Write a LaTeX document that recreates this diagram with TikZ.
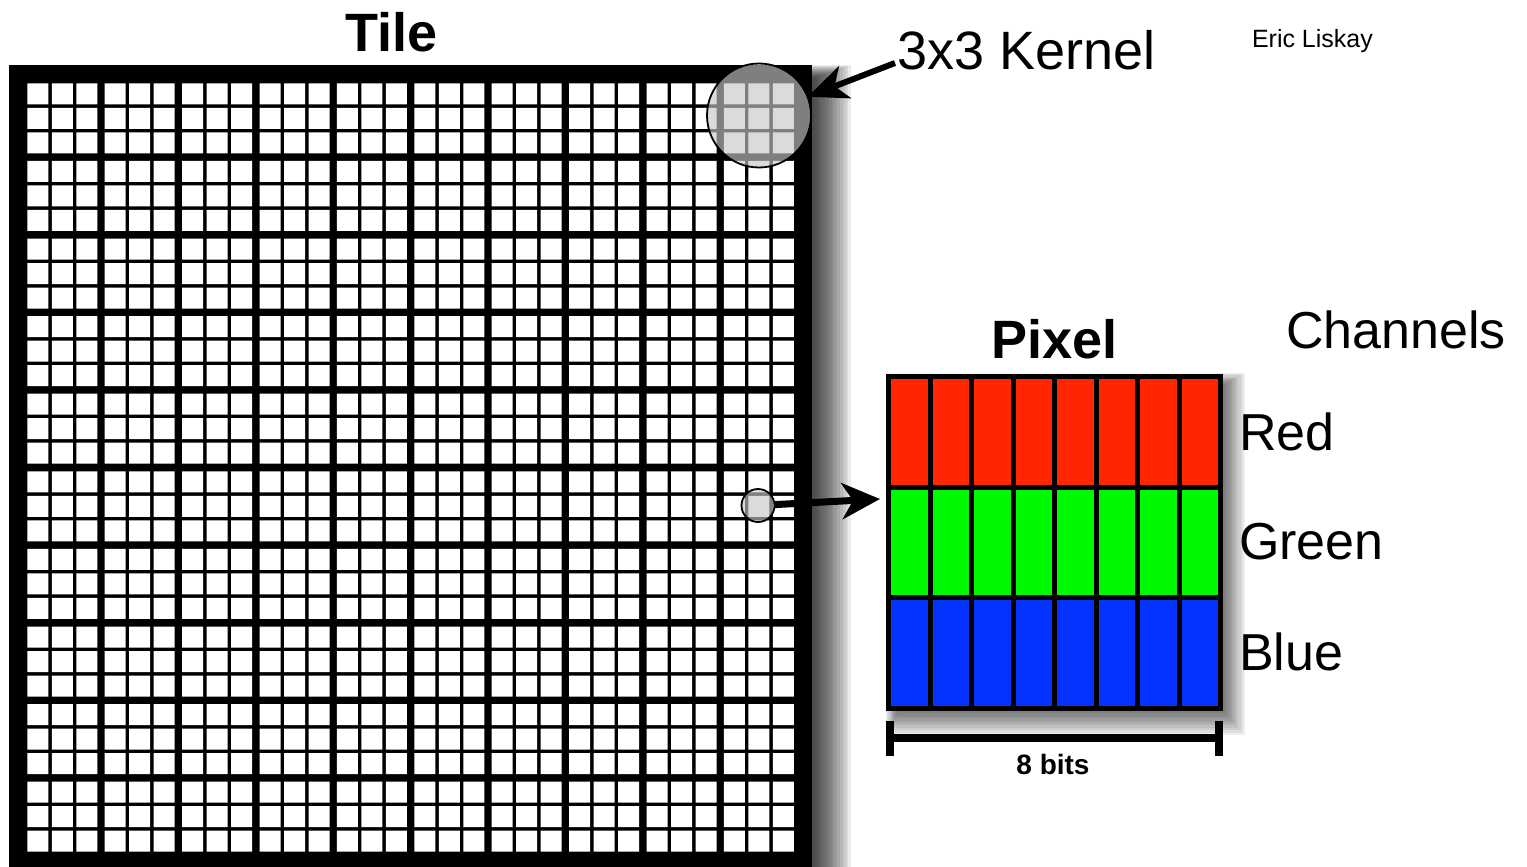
\documentclass[tikz,border=0pt]{standalone}
\usepackage{fontspec}
\setmainfont{Liberation Sans}
\usetikzlibrary{arrows.meta}
\definecolor{pxred}{HTML}{FF2600}
\definecolor{pxgreen}{HTML}{00F900}
\definecolor{pxblue}{HTML}{0433FF}
\tikzset{
  lens/.style={circle, inner sep=0pt, outer sep=0pt, fill=black!22, fill opacity=0.64, draw=black, line width=1.8pt},
  bigarrow/.style={line width=7pt, -{Stealth[length=38pt,width=36pt,inset=11pt]}},
  kerarrow/.style={line width=6pt, -{Stealth[length=40pt,width=34pt,inset=11pt]}},
  lbl/.style={inner sep=0pt, outer sep=0pt, anchor=base west},
  bigtxt/.style={lbl, font=\fontsize{52}{60}\selectfont},
  boldtxt/.style={lbl, font=\fontsize{54}{60}\selectfont\bfseries},
}
\begin{document}
\begin{tikzpicture}[x=1pt,y=-1pt]
\fill[white] (0,0) rectangle (1527,867);
\useasboundingbox (0,0) rectangle (1527,867);
% tile shadow
\foreach \i in {1,...,14}{
  \fill[black,opacity=0.08] ({9+30-1.5*\i},{65+14-1.0*\i}) rectangle ({812+2.8*\i},{869+8+3*\i});
}
% pixel shadow
\foreach \i in {1,...,10}{
  \fill[black,opacity=0.065] ({886+12-1.2*\i},{374+11-1.2*\i}) rectangle ({1223+2.2*\i},{711+2.4*\i});
}
% tile frame
\node[fill=black, inner sep=0pt, outer sep=0pt, minimum width=803pt, minimum height=804pt] (tile) at (410.5,467) {};
\fill[white]
  \foreach \bx in {0,...,9}{
    \foreach \by in {0,...,9}{
      \foreach \cx in {0,1,2}{
        \foreach \cy in {0,1,2}{
          ({27.3+\bx*77.4+\cx*24.5},{83.3+\by*77.6+\cy*24.5}) rectangle ++(21,21)
        }
      }
    }
  };
% lenses
\node[lens, minimum size=104pt] (kernel) at (759,115.5) {};
\node[lens, minimum size=33pt] (px) at (758,505.5) {};
% pixel box
\node[fill=black, inner sep=0pt, outer sep=0pt, minimum width=337pt, minimum height=337pt] (pixel) at (1054.5,542.5) {};
\foreach \k in {0,...,7}{
  \fill[pxred]   ({891+\k*41.5},379) rectangle ++(36.5,105.5);
  \fill[pxgreen] ({891+\k*41.5},489.5) rectangle ++(36.5,105.5);
  \fill[pxblue]  ({891+\k*41.5},600) rectangle ++(36.5,105.5);
}
% texts
\node[boldtxt] (tiletxt) at (345,51.7) {Tile};
\node[lbl, font=\fontsize{54}{60}\selectfont] (kertxt) at (897,70) {3x3 Kernel};
\node[lbl, font=\fontsize{25}{30}\selectfont] (author) at (1252,48) {Eric Liskay};
\node[boldtxt] (pixtxt) at (991,358) {Pixel};
\node[bigtxt] (chan) at (1286,348) {Channels};
\node[bigtxt] (red) at (1239,450) {Red};
\node[bigtxt] (green) at (1239,559) {Green};
\node[bigtxt] (blue) at (1239,670) {Blue};
\node[inner sep=0pt, anchor=base, font=\fontsize{28}{32}\selectfont\bfseries] (bits) at (1053,774) {8 bits};
% arrows
\coordinate (ktail) at (895,63);
\draw[kerarrow] (ktail) -- (kernel);
\coordinate (ptip) at (880,499);
\draw[bigarrow] (px) -- (ptip);
% scale bar
\draw[line width=8pt] (889.5,721) -- (889.5,756);
\draw[line width=8pt] (1219,721) -- (1219,756);
\draw[line width=8pt] (886,738) -- (1223,738);
\end{tikzpicture}
\end{document}
